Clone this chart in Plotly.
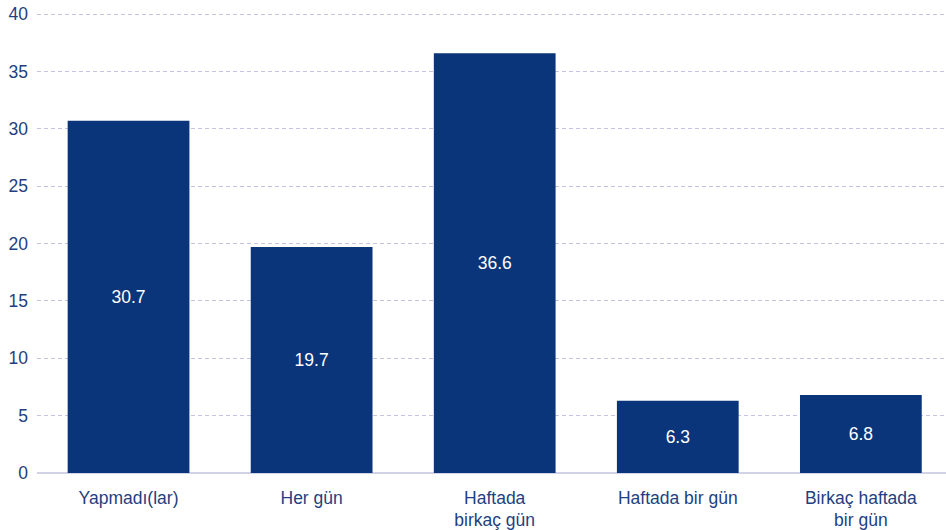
import plotly.graph_objects as go

categories = ["Yapmadı(lar)", "Her gün", "Haftada<br>birkaç gün", "Haftada bir gün", "Birkaç haftada<br>bir gün"]
values = [30.7, 19.7, 36.6, 6.3, 6.8]
y_ticks = [0, 5, 10, 15, 20, 25, 30, 35, 40]

bar_color = "#0a357a"
text_color = "#1e3f80"
font_family = "Liberation Sans, Arial, sans-serif"

fig = go.Figure(go.Bar(
    x=categories, y=values,
    marker=dict(color=bar_color, line=dict(width=0)),
    text=[f"{v:.1f}" for v in values],
    textposition="inside", insidetextanchor="middle",
    textfont=dict(color="white", size=17.5, family=font_family),
    cliponaxis=False,
))

fig.update_layout(
    width=946, height=530,
    margin=dict(l=37, r=0, t=13, b=57, autoexpand=False),
    plot_bgcolor="white", paper_bgcolor="white",
    bargap=0.335,
    showlegend=False,
    font=dict(family=font_family, size=17.5, color=text_color),
    xaxis=dict(range=[-0.5, 4.465], showgrid=False, showline=False, ticks="",
               automargin=False, ticklabelstandoff=12,
               tickfont=dict(size=17.5, color=text_color)),
    yaxis=dict(range=[0, 40.1], tickvals=y_ticks, showgrid=True,
               gridcolor="#c4c4e0", griddash="4px,3px", gridwidth=1,
               zeroline=True, zerolinecolor="#d3d3e8", zerolinewidth=2,
               ticks="", ticklabelstandoff=8, automargin=False,
               ticklabeloverflow="allow",
               tickfont=dict(size=17.5, color=text_color)),
)

fig.write_html(
    "out.html",
    config={"displayModeBar": False},
    post_script="document.body.style.margin='0';document.body.style.overflow='hidden';",
)
